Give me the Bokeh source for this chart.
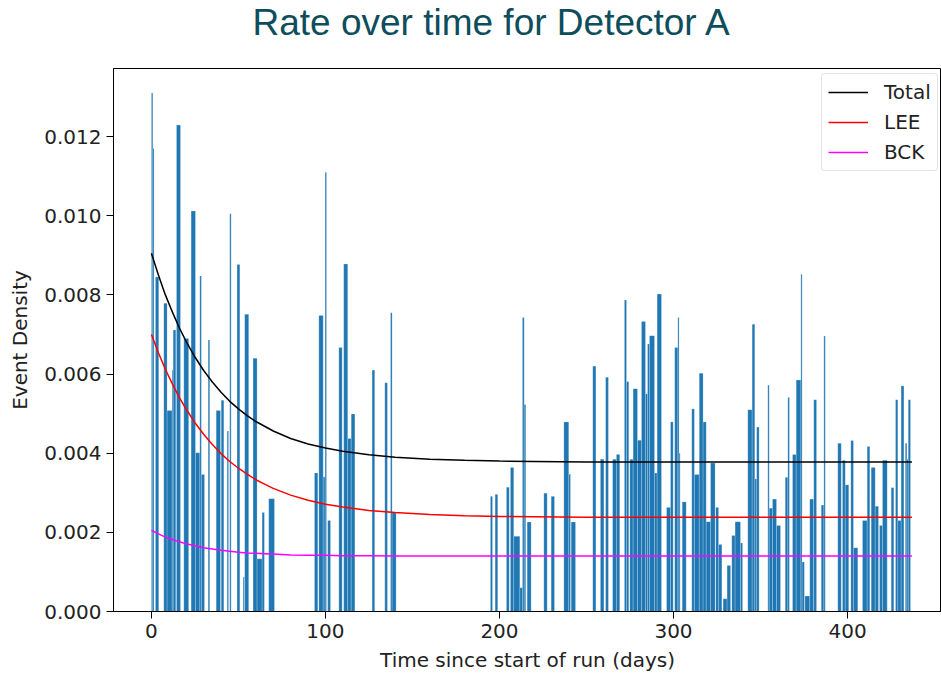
from bokeh.plotting import figure
from bokeh.models import (Range1d, Legend, LegendItem, ColumnDataSource, FixedTicker,
                          NumeralTickFormatter)
from bokeh.embed import file_html
from bokeh.resources import INLINE

# ---- data ----
bar_left = [0.0, 0.8, 2.3, 7.1, 9.0, 11.9, 12.5, 14.4, 18.6, 22.8, 25.3, 27.8, 28.7, 32.6,
            37.2, 40.1, 43.5, 45.0, 49.2, 52.7, 53.6, 58.4, 60.7, 63.6, 67.4,
            93.7, 96.2, 98.7, 99.8, 101.3, 107.7, 110.5, 112.8, 114.8,
            126.8, 134.1, 137.4, 138.3,
            194.8, 197.5, 204.0, 206.3, 208.2, 211.7, 213.2, 214.2, 215.9, 225.5, 229.7,
            237.0, 239.8, 241.2, 253.6, 258.0, 261.0, 265.0, 267.2, 271.8, 273.0, 274.9,
            276.8, 279.3, 281.6, 283.9, 285.1, 286.2, 289.1, 290.6, 296.0, 298.3, 300.7,
            302.5, 303.2, 305.0, 310.5, 312.0, 314.8, 317.0, 318.8, 321.3, 324.3, 325.9,
            328.5, 330.8, 333.5, 335.4, 338.5, 342.7, 345.2, 346.7, 347.8, 354.2, 355.0,
            356.9, 359.2, 364.2, 365.7, 368.4, 370.5, 373.2, 373.9, 375.5, 378.3, 380.6,
            384.9, 386.4, 394.4, 397.1, 398.7, 401.9, 403.4, 408.6, 411.3, 413.6, 415.9,
            418.4, 420.1, 425.1, 427.6, 428.9, 430.8, 433.2, 434.1, 434.9]
bar_right = [0.8, 1.5, 4.2, 9.0, 11.9, 12.5, 14.0, 16.7, 21.4, 25.3, 27.8, 28.7, 30.5, 33.5,
             39.7, 41.6, 44.3, 45.8, 50.8, 53.4, 55.9, 60.7, 63.6, 64.9, 70.7,
             95.6, 98.7, 99.8, 100.6, 102.9, 109.6, 112.8, 114.8, 116.9,
             128.3, 135.6, 138.3, 140.6,
             196.0, 199.0, 205.6, 208.2, 211.7, 213.2, 214.2, 215.1, 218.2, 227.4, 231.6,
             239.8, 240.8, 243.7, 255.4, 260.0, 262.6, 267.2, 269.1, 273.0, 274.3, 276.8,
             279.3, 281.6, 283.9, 285.1, 286.2, 289.1, 290.6, 293.1, 298.3, 299.8, 302.5,
             303.2, 303.8, 307.3, 312.0, 314.8, 317.0, 318.8, 321.3, 323.9, 325.9, 327.8,
             330.8, 332.8, 335.4, 338.5, 339.7, 345.2, 346.7, 347.8, 349.2, 355.0, 356.9,
             359.2, 361.5, 365.7, 366.6, 370.5, 373.2, 373.9, 375.2, 378.3, 380.5, 382.2,
             386.4, 387.2, 396.4, 398.7, 400.7, 403.4, 405.9, 411.3, 412.8, 415.9, 417.8,
             420.1, 422.8, 426.6, 428.9, 430.8, 432.4, 434.1, 434.9, 436.2]
bar_height = [0.0131, 0.0117, 0.00845, 0.00779, 0.00508, 0.0061, 0.00711, 0.01229, 0.0069,
              0.01012, 0.00401, 0.00848, 0.00346, 0.00686, 0.00508, 0.00534, 0.00456, 0.01005,
              0.00877, 0.00087, 0.00751, 0.0064, 0.00133, 0.0025, 0.00285,
              0.0035, 0.00748, 0.0034, 0.0111, 0.0023, 0.00667, 0.00878, 0.00437, 0.00499,
              0.0061, 0.00578, 0.00755, 0.0025,
              0.00291, 0.00296, 0.00314, 0.00364, 0.0019, 0.0006, 0.00743, 0.00523, 0.00226,
              0.00299, 0.00291, 0.00479, 0.00347, 0.00226, 0.0062, 0.00385, 0.00592, 0.00385,
              0.00397, 0.00787, 0.00581, 0.00385, 0.00563, 0.00433, 0.00733, 0.0055, 0.00676,
              0.00697, 0.0035, 0.00802, 0.00263, 0.00479, 0.00667, 0.00743, 0.004, 0.00277,
              0.00512, 0.00346, 0.00602, 0.00479, 0.00227, 0.00375, 0.00263, 0.00169, 0.00032,
              0.00116, 0.00192, 0.00227, 0.00173, 0.0051, 0.00726, 0.00335, 0.00466, 0.00572,
              0.00261, 0.00284, 0.00217, 0.00339, 0.00541, 0.00397, 0.00585, 0.00852, 0.00125,
              0.00039, 0.00284, 0.00535, 0.00269, 0.00696, 0.00425, 0.00382, 0.0032, 0.00432,
              0.00161, 0.0023, 0.00417, 0.00364, 0.00266, 0.00217, 0.00382, 0.00313, 0.00535,
              0.0023, 0.0057, 0.00425, 0.00385, 0.00535]

curve_days = [0, 4, 8, 12, 16, 20, 25, 30, 35, 40, 45, 50, 55, 60, 65, 70, 80, 90, 100, 110,
              125, 140, 160, 180, 200, 250, 300, 350, 400, 437]
total_rate = [0.00905, 0.00850, 0.00800, 0.00757, 0.00717, 0.00682, 0.00643, 0.00609, 0.00580,
              0.00554, 0.00531, 0.00512, 0.00495, 0.00480, 0.00468, 0.00456, 0.00437, 0.00423,
              0.00413, 0.00405, 0.00396, 0.00390, 0.00385, 0.00382, 0.00380, 0.00378, 0.00378,
              0.00378, 0.00378, 0.00378]
lee_rate = [0.00700, 0.00654, 0.00612, 0.00575, 0.00541, 0.00511, 0.00477, 0.00448, 0.00422,
            0.00399, 0.00379, 0.00362, 0.00347, 0.00333, 0.00322, 0.00311, 0.00294, 0.00281,
            0.00271, 0.00264, 0.00255, 0.00250, 0.00245, 0.00242, 0.00240, 0.00238, 0.00238,
            0.00238, 0.00238, 0.00238]
bck_rate = [0.00205, 0.00196, 0.00188, 0.00182, 0.00176, 0.00171, 0.00166, 0.00161, 0.00158,
            0.00155, 0.00152, 0.00150, 0.00148, 0.00147, 0.00146, 0.00145, 0.00143, 0.00142,
            0.00142, 0.00141, 0.00141, 0.00140, 0.00140, 0.00140, 0.00140, 0.00140, 0.00140,
            0.00140, 0.00140, 0.00140]

x_ticks = [0, 100, 200, 300, 400]
y_ticks = [0.0, 0.002, 0.004, 0.006, 0.008, 0.010, 0.012]

TXT = "DejaVu Sans"

# the figure is 23 px taller than the window and shifted up by 23 px so the
# title can sit further from the frame than Bokeh's title box allows
p = figure(width=941, height=697, output_backend="svg", toolbar_location=None,
           x_range=Range1d(-21.8, 454.0), y_range=Range1d(0, 0.01372),
           min_border_left=113, min_border_right=0, min_border_top=91, min_border_bottom=62,
           title="Rate over time for Detector A", styles={"margin-top": "-23px"})
p.background_fill_color = "white"
p.border_fill_color = "white"
p.outline_line_color = "black"
p.outline_line_width = 1
p.grid.visible = False

p.title.align = "left"
p.title.offset = 139
p.title.vertical_align = "top"
p.title.standoff = 48
p.title.text_font = "Liberation Sans"
p.title.text_font_size = "37px"
p.title.text_font_style = "normal"
p.title.text_color = "#0d4d5c"

src = ColumnDataSource(dict(left=bar_left, right=bar_right, top=bar_height,
                            bottom=[0.0] * len(bar_height)))
p.quad(left="left", right="right", top="top", bottom="bottom", source=src,
       fill_color="#1f77b4", line_color="white", line_width=0.4, line_alpha=0.5)

r_total = p.line(curve_days, total_rate, line_color="black", line_width=1.5)
r_lee = p.line(curve_days, lee_rate, line_color="#ff0000", line_width=1.5)
r_bck = p.line(curve_days, bck_rate, line_color="#ff00ff", line_width=1.5)

for ax in (p.xaxis[0], p.yaxis[0]):
    ax.axis_line_color = "black"
    ax.major_tick_out = 7
    ax.major_tick_in = 0
    ax.minor_tick_line_color = None
    ax.major_tick_line_color = "black"
    ax.major_label_text_font = TXT
    ax.major_label_text_font_size = "20px"
    ax.major_label_text_color = "#222222"
    ax.axis_label_text_font = TXT
    ax.axis_label_text_font_size = "20px"
    ax.axis_label_text_font_style = "normal"
    ax.axis_label_text_color = "#222222"
    ax.major_label_standoff = 5

p.xaxis.ticker = FixedTicker(ticks=x_ticks)
p.yaxis.ticker = FixedTicker(ticks=y_ticks)
p.yaxis.formatter = NumeralTickFormatter(format="0.000")
p.xaxis.axis_label = "Time since start of run (days)"
p.yaxis.axis_label = "Event Density"
p.xaxis.axis_label_standoff = 7
p.yaxis.axis_label_standoff = 9

legend = Legend(items=[LegendItem(label="Total", renderers=[r_total]),
                       LegendItem(label="LEE", renderers=[r_lee]),
                       LegendItem(label="BCK", renderers=[r_bck])],
                location=(708, 440))
legend.label_text_font = TXT
legend.label_text_font_size = "20px"
legend.label_text_color = "#222222"
legend.glyph_width = 40
legend.glyph_height = 24
legend.label_standoff = 16
legend.label_height = 24
legend.padding = 6
legend.spacing = 6
legend.margin = 0
legend.border_line_color = "#cccccc"
legend.border_line_width = 1
legend.border_radius = 4
legend.background_fill_alpha = 0.9
p.add_layout(legend)

open("out.html", "w").write(file_html(p, INLINE))
